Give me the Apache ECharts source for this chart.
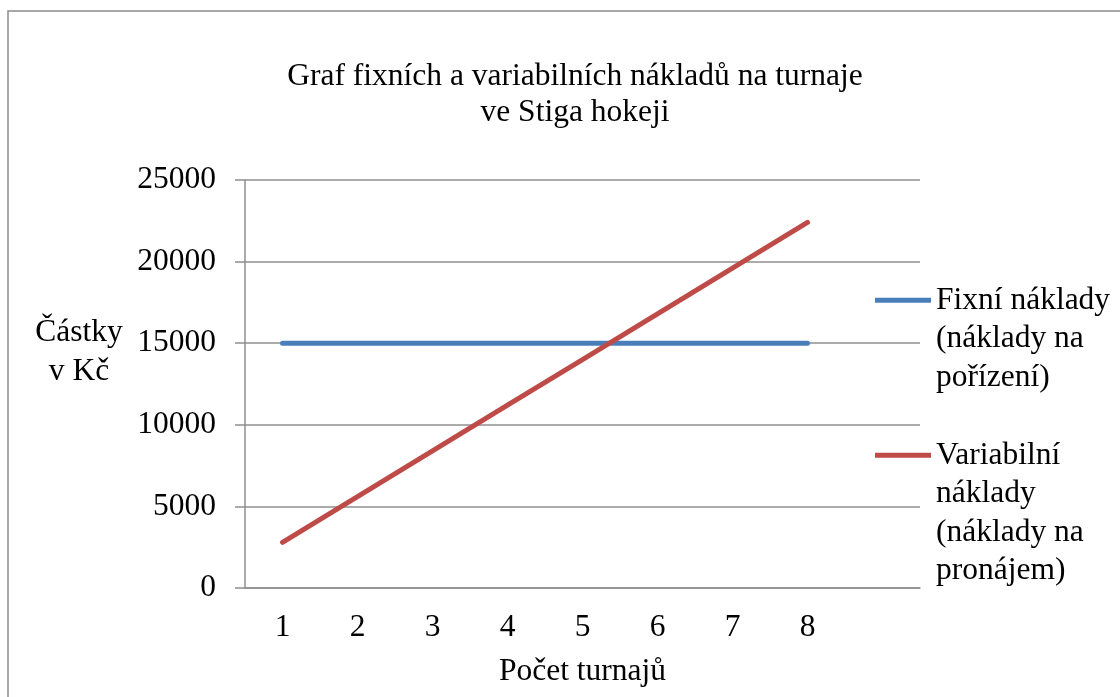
<!DOCTYPE html>
<html>
<head>
<meta charset="utf-8">
<script src="https://cdn.jsdelivr.net/npm/echarts@6/dist/echarts.min.js"></script>
<style>
html, body { margin: 0; padding: 0; background: #fff; }
#chart { width: 1120px; height: 697px; }
</style>
</head>
<body>
<div id="chart"></div>
<script>
var turnaje = ['1', '2', '3', '4', '5', '6', '7', '8', ''];
var fixniNaklady = [15000, 15000, 15000, 15000, 15000, 15000, 15000, 15000];
var variabilniNaklady = [2800, 5600, 8400, 11200, 14000, 16800, 19600, 22400];
var nazvySerii = ['Fixní náklady\n(náklady na\npořízení)', 'Variabilní\nnáklady\n(náklady na\npronájem)'];

var font = "'Liberation Serif', 'Times New Roman', serif";
var seda = '#8f8f8f';
var radek = 38.5;

var dom = document.getElementById('chart');
var myChart = echarts.init(dom);

// ikona legendy: cara u prvniho radku textu, vyska = cely blok textu
function legenda(jmeno, radku, top) {
    var h = radku * radek;
    var y = radek / 2 - 2.5;
    return {
        data: [jmeno],
        left: 875,
        top: top,
        padding: 0,
        itemWidth: 56,
        itemHeight: h,
        itemStyle: { borderWidth: 0 },
        icon: 'path://M0,0h0.01M0,' + h + 'h0.01M56,' + h + 'h0.01M0,' + y + 'h56v5h-56z',
        selectedMode: false,
        textStyle: {
            fontFamily: font,
            fontSize: 31.5,
            color: '#000',
            lineHeight: radek
        }
    };
}

var option = {
    backgroundColor: '#fff',
    animation: false,
    title: {
        text: 'Graf fixních a variabilních nákladů na turnaje\nve Stiga hokeji',
        left: 575,
        top: 59,
        padding: 0,
        textAlign: 'center',
        textVerticalAlign: 'top',
        textStyle: {
            fontFamily: font,
            fontSize: 31.5,
            fontWeight: 'normal',
            color: '#000',
            lineHeight: 36
        }
    },
    graphic: [{
        type: 'rect',
        shape: { x: 8, y: 11, width: 1140, height: 720 },
        style: { fill: 'none', stroke: '#8c8c8c', lineWidth: 1.5 },
        silent: true
    }],
    legend: [
        legenda(nazvySerii[0], 3, 281),
        legenda(nazvySerii[1], 4, 436)
    ],
    grid: {
        left: 245,
        right: 200,
        top: 180,
        bottom: 109
    },
    xAxis: {
        type: 'category',
        data: turnaje,
        boundaryGap: true,
        name: 'Počet turnajů',
        nameLocation: 'middle',
        nameGap: 84,
        nameTextStyle: {
            fontFamily: font,
            fontSize: 31.5,
            color: '#000',
            verticalAlign: 'middle'
        },
        axisLine: { lineStyle: { color: seda, width: 1.5 } },
        axisTick: { length: 10, interval: 0, lineStyle: { color: seda, width: 1.5 } },
        axisLabel: {
            fontFamily: font,
            fontSize: 31.5,
            color: '#000',
            margin: 24,
            interval: 0
        },
        splitLine: { show: false }
    },
    yAxis: {
        type: 'value',
        min: 0,
        max: 25000,
        interval: 5000,
        name: '{a|Částky}\n{a|v Kč}\n{b| }',
        nameLocation: 'middle',
        nameRotate: 0,
        nameGap: 166,
        nameTextStyle: {
            fontFamily: font,
            fontSize: 31.5,
            color: '#000',
            align: 'center',
            verticalAlign: 'middle',
            rich: {
                a: { fontFamily: font, fontSize: 31.5, color: '#000', lineHeight: 39 },
                b: { fontFamily: font, fontSize: 10, lineHeight: 63 }
            }
        },
        axisLine: { show: true, lineStyle: { color: seda, width: 1.5 } },
        axisTick: { show: true, length: 10, lineStyle: { color: seda, width: 1.5 } },
        axisLabel: {
            fontFamily: font,
            fontSize: 31.5,
            color: '#000',
            margin: 29,
            formatter: function (v) { return String(v); }
        },
        splitLine: { show: true, lineStyle: { color: seda, width: 1.5 } }
    },
    series: [{
        name: nazvySerii[0],
        type: 'line',
        data: fixniNaklady,
        symbol: 'none',
        color: '#4a7ebb',
        lineStyle: { width: 5, color: '#4a7ebb', cap: 'round' }
    }, {
        name: nazvySerii[1],
        type: 'line',
        data: variabilniNaklady,
        symbol: 'none',
        color: '#be4b48',
        lineStyle: { width: 5, color: '#be4b48', cap: 'round' }
    }]
};

if (option && typeof option === 'object') {
    myChart.setOption(option, true);
}
</script>
</body>
</html>
